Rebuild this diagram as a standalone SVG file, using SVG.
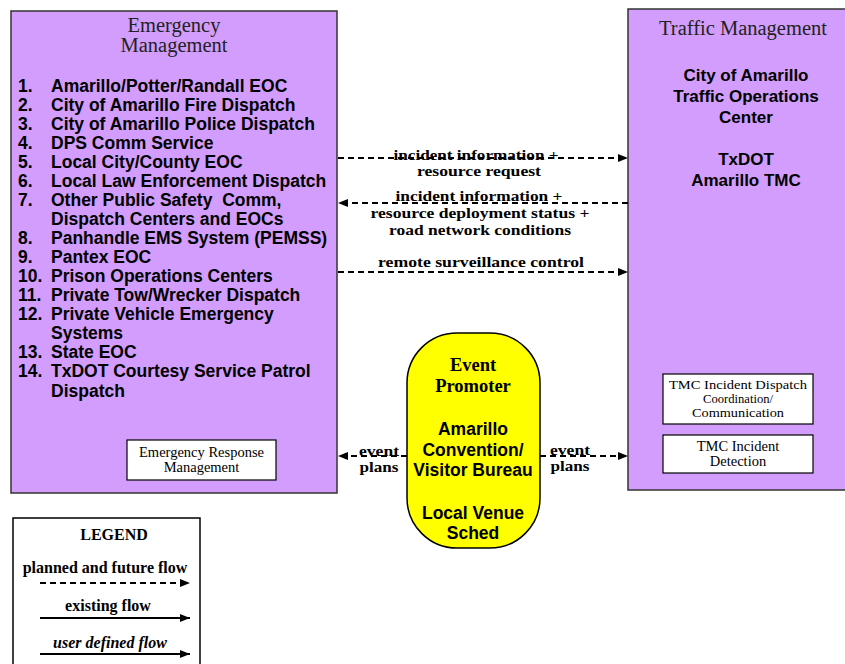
<svg xmlns="http://www.w3.org/2000/svg" width="845" height="664" viewBox="0 0 845 664">
<defs>
<marker id="ah" viewBox="0 0 10 10" refX="10" refY="5" markerWidth="10" markerHeight="10" markerUnits="userSpaceOnUse" orient="auto-start-reverse">
<path d="M0,1 L10,5 L0,9 z" fill="#000"/>
</marker>
<style>
.big{fill:#D29DFC;stroke:#333;stroke-width:1.5}
.sub{fill:#fff;stroke:#000;stroke-width:1.2}
.ttl{font-family:"Liberation Serif",serif;font-size:20.5px;fill:#222}
.sans{font-family:"Liberation Sans",Arial,sans-serif;font-weight:bold;font-size:17.5px;fill:#000}
.ser{font-family:"Liberation Serif",serif;font-size:14.5px;fill:#000}
.ser2{font-family:"Liberation Serif",serif;font-size:13.3px;fill:#000;text-anchor:middle}
.lbl{font-family:"Liberation Serif",serif;font-weight:bold;font-size:15.5px;fill:#000;text-anchor:middle}
.leg{font-family:"Liberation Serif",serif;font-weight:bold;font-size:16px;fill:#000;text-anchor:middle}
.dash{stroke:#000;stroke-width:2;stroke-dasharray:6,4;fill:none}
.solid{stroke:#000;stroke-width:2;fill:none}
</style>
</defs>
<rect width="845" height="664" fill="#fff"/>

<g id="emergency-management">
<rect class="big" x="11" y="11" width="326" height="482"/>
<text class="ttl" x="174" y="32" text-anchor="middle">Emergency</text>
<text class="ttl" x="174" y="52" text-anchor="middle">Management</text>
<g class="sans">
<text x="18" y="92">1.</text><text x="51" y="92">Amarillo/Potter/Randall EOC</text>
<text x="18" y="111">2.</text><text x="51" y="111">City of Amarillo Fire Dispatch</text>
<text x="18" y="130">3.</text><text x="51" y="130">City of Amarillo Police Dispatch</text>
<text x="18" y="149">4.</text><text x="51" y="149">DPS Comm Service</text>
<text x="18" y="168">5.</text><text x="51" y="168">Local City/County EOC</text>
<text x="18" y="187">6.</text><text x="51" y="187">Local Law Enforcement Dispatch</text>
<text x="18" y="206">7.</text><text x="51" y="206" xml:space="preserve">Other Public Safety  Comm,</text>
<text x="51" y="225">Dispatch Centers and EOCs</text>
<text x="18" y="244">8.</text><text x="51" y="244">Panhandle EMS System (PEMSS)</text>
<text x="18" y="263">9.</text><text x="51" y="263">Pantex EOC</text>
<text x="18" y="282">10.</text><text x="51" y="282">Prison Operations Centers</text>
<text x="18" y="301">11.</text><text x="51" y="301">Private Tow/Wrecker Dispatch</text>
<text x="18" y="320">12.</text><text x="51" y="320">Private Vehicle Emergency</text>
<text x="51" y="339">Systems</text>
<text x="18" y="358">13.</text><text x="51" y="358">State EOC</text>
<text x="18" y="377">14.</text><text x="51" y="377">TxDOT Courtesy Service Patrol</text>
<text x="51" y="397">Dispatch</text>
</g>
</g>

<g id="emergency-response-management">
<rect class="sub" x="127" y="440" width="149" height="40"/>
<text class="ser" x="201.5" y="457" text-anchor="middle">Emergency Response</text>
<text class="ser" x="201.5" y="472" text-anchor="middle">Management</text>
</g>

<g id="traffic-management">
<rect class="big" x="628" y="9" width="218" height="481"/>
<text class="ttl" x="743" y="35" text-anchor="middle">Traffic Management</text>
<g class="sans" text-anchor="middle" style="font-size:17px">
<text x="746" y="81">City of Amarillo</text>
<text x="746" y="102">Traffic Operations</text>
<text x="746" y="123">Center</text>
<text x="746" y="165">TxDOT</text>
<text x="746" y="186">Amarillo TMC</text>
</g>
</g>

<g id="tmc-incident-dispatch">
<rect class="sub" x="663" y="374" width="150" height="50"/>
<text class="ser2" x="738" y="389" textLength="138" lengthAdjust="spacingAndGlyphs">TMC Incident Dispatch</text>
<text class="ser2" x="738" y="403" textLength="70" lengthAdjust="spacingAndGlyphs">Coordination/</text>
<text class="ser2" x="738" y="417" textLength="92" lengthAdjust="spacingAndGlyphs">Communication</text>
</g>

<g id="tmc-incident-detection">
<rect class="sub" x="663" y="435" width="150" height="38"/>
<text class="ser" x="738" y="451" text-anchor="middle">TMC Incident</text>
<text class="ser" x="738" y="466" text-anchor="middle">Detection</text>
</g>

<g id="event-promoter">
<rect x="407" y="333" width="133" height="215" rx="50" ry="50" fill="#FFFF00" stroke="#000" stroke-width="1.5"/>
<text class="lbl" x="473" y="371" style="font-size:18.5px">Event</text>
<text class="lbl" x="473" y="392" style="font-size:18.5px">Promoter</text>
<g class="sans" text-anchor="middle">
<text x="473" y="435">Amarillo</text>
<text x="473" y="456">Convention/</text>
<text x="473" y="476">Visitor Bureau</text>
<text x="473" y="519">Local Venue</text>
<text x="473" y="539">Sched</text>
</g>
</g>

<g id="connectors">
<line class="dash" x1="338" y1="158" x2="628" y2="158" marker-end="url(#ah)"/>
<text class="lbl" x="476" y="160" textLength="165" lengthAdjust="spacingAndGlyphs">incident information +</text>
<text class="lbl" x="479" y="176" textLength="124" lengthAdjust="spacingAndGlyphs">resource request</text>

<line class="dash" x1="628" y1="203" x2="338" y2="203" marker-end="url(#ah)"/>
<text class="lbl" x="479" y="201" textLength="167" lengthAdjust="spacingAndGlyphs">incident information +</text>
<text class="lbl" x="480" y="218" textLength="219" lengthAdjust="spacingAndGlyphs">resource deployment status +</text>
<text class="lbl" x="480" y="235" textLength="182" lengthAdjust="spacingAndGlyphs">road network conditions</text>

<line class="dash" x1="338" y1="272" x2="628" y2="272" marker-end="url(#ah)"/>
<text class="lbl" x="481" y="267" textLength="206" lengthAdjust="spacingAndGlyphs">remote surveillance control</text>

<line class="dash" x1="407" y1="456" x2="338" y2="456" marker-end="url(#ah)"/>
<text class="lbl" x="379" y="456" textLength="40" lengthAdjust="spacingAndGlyphs">event</text>
<text class="lbl" x="379" y="472" textLength="39" lengthAdjust="spacingAndGlyphs">plans</text>

<line class="dash" x1="540" y1="456" x2="628" y2="456" marker-end="url(#ah)"/>
<text class="lbl" x="570" y="455" textLength="40" lengthAdjust="spacingAndGlyphs">event</text>
<text class="lbl" x="570" y="471" textLength="39" lengthAdjust="spacingAndGlyphs">plans</text>
</g>

<g id="legend">
<rect x="13" y="518" width="187" height="150" fill="#fff" stroke="#000" stroke-width="1.5"/>
<text class="leg" x="114" y="540">LEGEND</text>
<text class="leg" x="105" y="573">planned and future flow</text>
<line class="dash" x1="40" y1="583" x2="190" y2="583" marker-end="url(#ah)"/>
<text class="leg" x="108" y="611">existing flow</text>
<line class="solid" x1="40" y1="618" x2="190" y2="618" marker-end="url(#ah)"/>
<text class="leg" x="110" y="648" font-style="italic">user defined flow</text>
<line class="solid" x1="40" y1="654" x2="190" y2="654" marker-end="url(#ah)"/>
</g>
</svg>
